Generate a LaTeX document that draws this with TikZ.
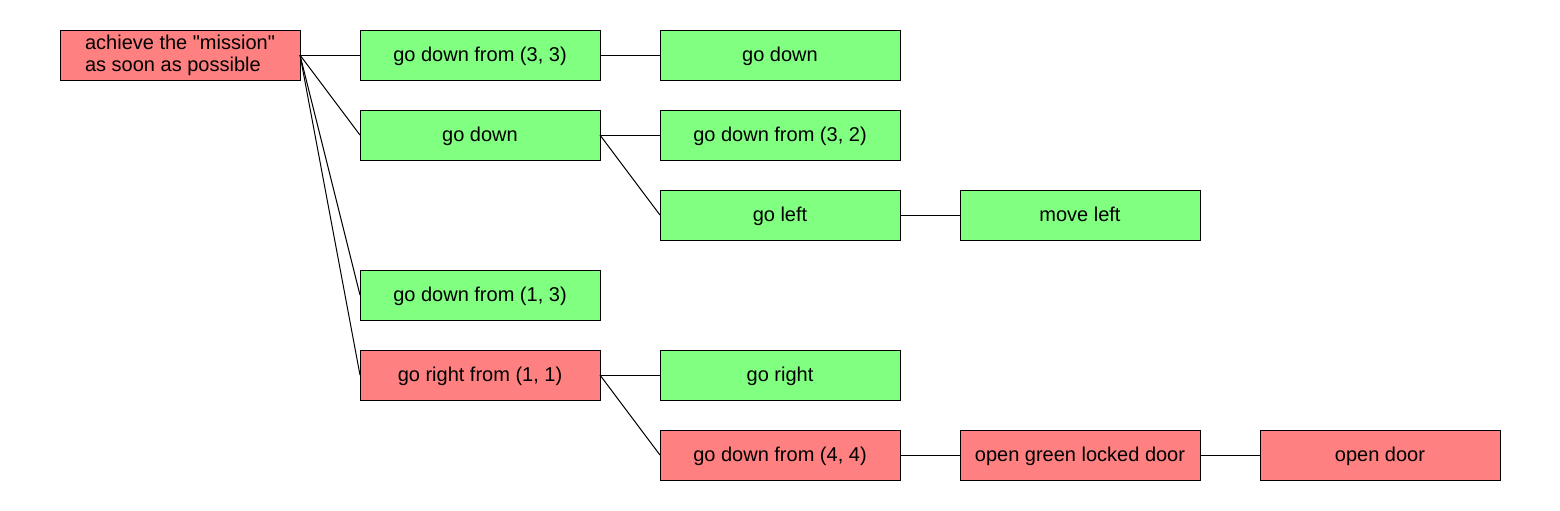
\documentclass[tikz,border=0pt]{standalone}
\usepackage{fontspec}
\newfontfamily\plainfont{Liberation Sans}
\usepackage{tikz}
\usetikzlibrary{positioning}
\definecolor{goalgreen}{RGB}{128,255,128}
\definecolor{goalred}{RGB}{255,128,128}
\tikzstyle{gn}=[%
      rectangle, draw=black, line width=0.5pt, fill=goalgreen, outer sep=0pt,
      minimum height=25pt, minimum width=120pt, inner sep=0pt, align=center,
      text height=8pt, text depth=2pt
]
\tikzstyle{rd}=[%
      rectangle, draw=black, line width=0.5pt, fill=goalred, outer sep=0pt,
      minimum height=25pt, minimum width=120pt, inner sep=0pt, align=center,
      text height=8pt, text depth=2pt
]
\begin{document}
\begin{tikzpicture}[font=\plainfont\fontsize{10pt}{11pt}\selectfont,
    node distance = 15pt and 30pt,
    line width=0.5pt
  ]
    \useasboundingbox (0,0) rectangle (780pt,-255pt);
    \node[rd, align=left, anchor=north west, text height=, text depth=] (0) at (30pt,-15pt) {achieve the "mission"\\as soon as possible};
    \node[gn]  (1)  [right = of 0]        {go down from (3, 3)};
    \node[gn]  (2)  [right = of 1]        {go down};
    \node[gn]  (3)  [below = of 1]        {go down};
    \node[gn]  (4)  [right = of 3]        {go down from (3, 2)};
    \node[gn]  (5)  [below = of 4]        {go left};
    \node[gn]  (6)  [right = of 5]        {move left};
    \node[gn]  (7)  [below = 55pt of 3]   {go down from (1, 3)};
    \node[rd]  (8)  [below = of 7]        {go right from (1, 1)};
    \node[gn]  (9)  [right = of 8]        {go right};
    \node[rd]  (10) [below = of 9]        {go down from (4, 4)};
    \node[rd]  (11) [right = of 10]       {open green locked door};
    \node[rd]  (12) [right = of 11]       {open door};

    \path (0.east) edge (1.west)
          (0.east) edge (3.west)
          (0.east) edge (7.west)
          (0.east) edge (8.west)
          (1.east) edge (2.west)
          (3.east) edge (4.west)
          (3.east) edge (5.west)
          (5.east) edge (6.west)
          (8.east) edge (9.west)
          (8.east) edge (10.west)
          (10.east) edge (11.west)
          (11.east) edge (12.west)
    ;

  \end{tikzpicture}
\end{document}
